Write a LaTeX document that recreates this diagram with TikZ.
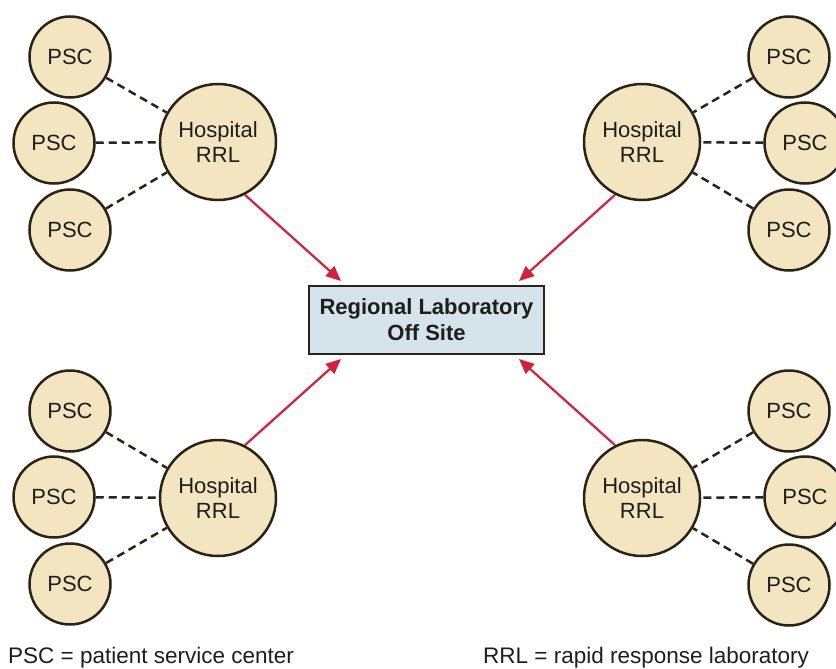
\documentclass[tikz,border=0pt]{standalone}
\usepackage{fontspec}
\setmainfont{Liberation Sans}
\usetikzlibrary{arrows.meta}
\definecolor{beige}{HTML}{F2E5C0}
\definecolor{edge}{HTML}{2A2418}
\definecolor{boxfill}{HTML}{D5E3EA}
\definecolor{arrowred}{HTML}{D42039}
\definecolor{txt}{HTML}{1E1E1E}
\begin{document}
\begin{tikzpicture}[x=1pt,y=-1pt,
  psc/.style={circle,draw=edge,fill=beige,line width=2.5pt,minimum size=81pt,inner sep=0pt,text=txt,font=\fontsize{22}{25}\selectfont},
  hosp/.style={circle,draw=edge,fill=beige,line width=2.5pt,minimum size=116pt,inner sep=0pt,text=txt,align=center,font=\fontsize{22}{25}\selectfont},
  lab/.style={rectangle,draw=edge,fill=boxfill,line width=2.7pt,minimum width=235pt,minimum height=68pt,inner sep=0pt,align=center,text=txt,font=\fontsize{22}{26}\selectfont\bfseries},
  link/.style={draw=edge,line width=2.5pt,dash pattern=on 8pt off 5pt},
  feed/.style={draw=arrowred,line width=2.2pt,-{Triangle[length=15pt,width=13pt]}},
  legend/.style={anchor=base west,inner sep=0pt,text=txt,font=\fontsize{22.5}{25}\selectfont}]
\useasboundingbox (0,0) rectangle (836,669);

\node[lab] (lab) at (426.5,320) {Regional Laboratory\\Off Site};

% top-left
\node[hosp] (h1) at (218,142) {Hospital\\RRL};
\node[psc] (p11) at (70,57) {PSC};
\node[psc] (p12) at (54,143) {PSC};
\node[psc] (p13) at (70,230) {PSC};
% top-right
\node[hosp] (h2) at (642,142) {Hospital\\RRL};
\node[psc] (p21) at (789,57) {PSC};
\node[psc] (p22) at (805,143) {PSC};
\node[psc] (p23) at (789,230) {PSC};
% bottom-left
\node[hosp] (h3) at (218,498) {Hospital\\RRL};
\node[psc] (p31) at (70,411) {PSC};
\node[psc] (p32) at (54,497) {PSC};
\node[psc] (p33) at (70,584) {PSC};
% bottom-right
\node[hosp] (h4) at (642,498) {Hospital\\RRL};
\node[psc] (p41) at (789,411) {PSC};
\node[psc] (p42) at (805,497) {PSC};
\node[psc] (p43) at (789,585) {PSC};

\foreach \g in {1,2,3,4}{
  \foreach \i in {1,2,3}{
    \draw[link] (p\g\i) -- (h\g);
  }
}

\coordinate (e1) at (341,281);
\coordinate (e2) at (519,281);
\coordinate (e3) at (341,359);
\coordinate (e4) at (519,359);
\draw[feed] (h1.-63) -- (e1);
\draw[feed] (h2.-117) -- (e2);
\draw[feed] (h3.63) -- (e3);
\draw[feed] (h4.117) -- (e4);

\node[legend] (l1) at (8,663) {PSC = patient service center};
\node[legend] (l2) at (483,663) {RRL = rapid response laboratory};
\end{tikzpicture}
\end{document}
